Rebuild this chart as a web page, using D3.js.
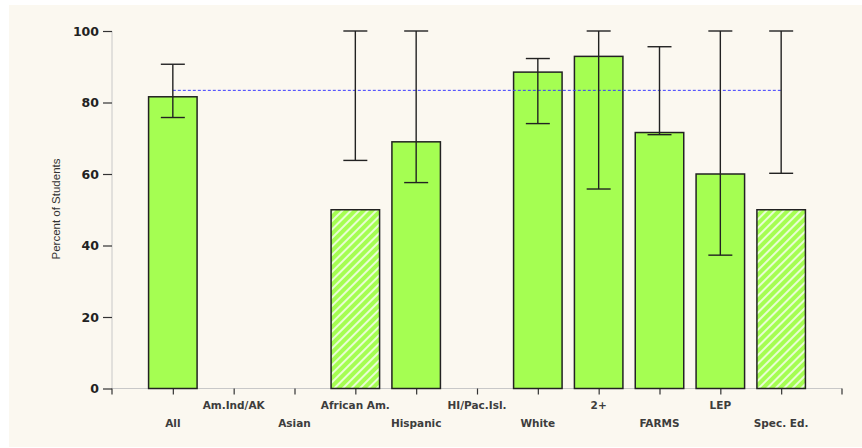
<!DOCTYPE html>
<html><head><meta charset="utf-8">
<script src="https://cdn.jsdelivr.net/npm/d3@7"></script>
<style>body{margin:0;background:#fff}svg{display:block}</style>
</head><body>
<svg id="c" width="862" height="448"></svg>
<script>
const categories = ["All","Am.Ind/AK","Asian","African Am.","Hispanic","HI/Pac.Isl.","White","2+","FARMS","LEP","Spec. Ed."];
const values =   [81.6, null, null, 50, 69.0, null, 88.5, 92.9, 71.6, 60.0, 50];
const errLow =   [75.8, null, null, 63.8, 57.6, null, 74.1, 55.8, 71.0, 37.3, 60.2];
const errHigh =  [90.7, null, null, 100, 100, null, 92.3, 100, 95.6, 100, 100];
const hatched =  [false,false,false,true,false,false,false,false,false,false,true];
const refValue = 83.4;
const yTicks = [0,20,40,60,80,100];
const yTitle = "Percent of Students";

const svg = d3.select("#c");
const defs = svg.append("defs");
const pat = defs.append("pattern").attr("id","hatch").attr("patternUnits","userSpaceOnUse")
  .attr("width",6).attr("height",6).attr("patternTransform","rotate(45)");
pat.append("rect").attr("width",6).attr("height",6).attr("fill","#A5FE52");
pat.append("line").attr("x1",1).attr("y1",0).attr("x2",1).attr("y2",6).attr("stroke","#ffffff").attr("stroke-width",1.5);

svg.append("rect").attr("x",9).attr("y",5).attr("width",853).attr("height",442).attr("fill","#FBF8F0");

const x = d3.scalePoint().domain(categories).range([112,842]).padding(1);
const y = d3.scaleLinear().domain([0,100]).range([388.5,31]);
const bw = 48.5, cap = 24;

// axes
const yAxis = svg.append("g").attr("transform","translate(112,0)")
  .call(d3.axisLeft(y).tickValues(yTicks).tickSize(9).tickPadding(4));
yAxis.select(".domain").attr("stroke","#c8c8c8").attr("d","M0,31V388.5");
yAxis.selectAll(".tick line").attr("stroke","#333").attr("stroke-width",1.2);
yAxis.selectAll(".tick text").attr("font-family","DejaVu Sans, Verdana, sans-serif")
  .attr("font-weight","bold").attr("font-size",12.5).attr("fill","#222");

const xAxis = svg.append("g").attr("transform","translate(0,388.5)")
  .call(d3.axisBottom(x).tickSize(6).tickFormat(""));
xAxis.select(".domain").attr("stroke","#c8c8c8").attr("d","M112,0H842");
xAxis.selectAll(".tick line").attr("stroke","#333").attr("stroke-width",1.2);
svg.append("line").attr("x1",842).attr("x2",842).attr("y1",388.5).attr("y2",394.5).attr("stroke","#333").attr("stroke-width",1.2);
svg.append("line").attr("x1",112).attr("x2",112).attr("y1",388.5).attr("y2",394.5).attr("stroke","#333").attr("stroke-width",1.2);

svg.append("g").selectAll("text").data(categories).join("text")
  .attr("x",d=>x(d)).attr("y",(d,i)=> i%2 ? 409 : 427)
  .attr("text-anchor","middle").attr("font-family","DejaVu Sans, Verdana, sans-serif")
  .attr("font-weight","bold").attr("font-size",10.5).attr("fill","#3d3d3d").text(d=>d);

svg.append("text").attr("transform","translate(60,209) rotate(-90)")
  .attr("text-anchor","middle").attr("font-family","Liberation Sans, Arial, sans-serif")
  .attr("font-size",11.5).attr("fill","#333").text(yTitle);

const data = categories.map((c,i)=>({c,v:values[i],lo:errLow[i],hi:errHigh[i],h:hatched[i]}));
const withBar = data.filter(d=>d.v!=null);

svg.append("g").selectAll("rect").data(withBar).join("rect")
  .attr("x",d=>x(d.c)-bw/2).attr("y",d=>y(d.v))
  .attr("width",bw).attr("height",d=>y(0)-y(d.v))
  .attr("fill",d=>d.h?"url(#hatch)":"#A5FE52").attr("stroke","#222").attr("stroke-width",1.5);

// reference line
svg.append("line").attr("x1",x(categories[0])).attr("x2",x(categories[categories.length-1]))
  .attr("y1",y(refValue)).attr("y2",y(refValue))
  .attr("stroke","#3a3aff").attr("stroke-width",1).attr("stroke-dasharray","3,2");

// error bars
const eb = svg.append("g").attr("stroke","#222").attr("stroke-width",1.4);
withBar.forEach(d=>{
  const cx = x(d.c);
  eb.append("line").attr("x1",cx).attr("x2",cx).attr("y1",y(d.hi)).attr("y2",y(d.lo));
  eb.append("line").attr("x1",cx-cap/2).attr("x2",cx+cap/2).attr("y1",y(d.hi)).attr("y2",y(d.hi));
  eb.append("line").attr("x1",cx-cap/2).attr("x2",cx+cap/2).attr("y1",y(d.lo)).attr("y2",y(d.lo));
});
</script>
</body></html>
